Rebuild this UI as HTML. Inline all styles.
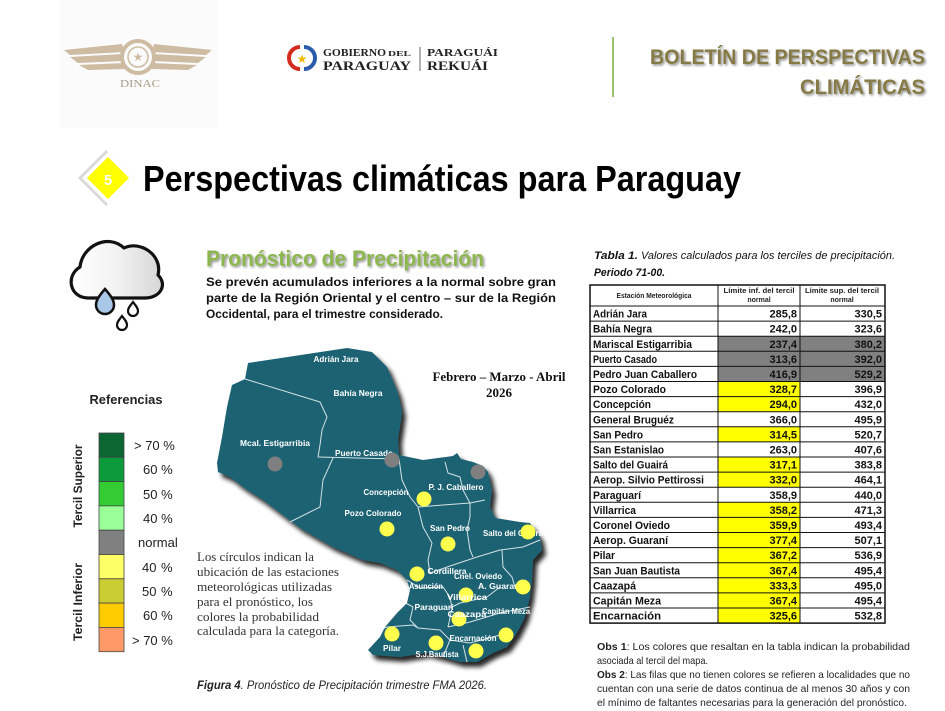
<!DOCTYPE html>
<html><head><meta charset="utf-8"><style>
html,body{margin:0;padding:0;background:#fff;}
svg{display:block;}
text{font-family:"Liberation Sans",sans-serif;}
.serif{font-family:"Liberation Serif",serif;}
</style></head><body>
<svg width="945" height="711" viewBox="0 0 945 711" xmlns="http://www.w3.org/2000/svg">
<defs>
<filter id="sh" x="-10%" y="-10%" width="130%" height="130%"><feGaussianBlur in="SourceAlpha" stdDeviation="2.5"/><feOffset dx="4" dy="5" result="b"/><feComponentTransfer><feFuncA type="linear" slope="0.85"/></feComponentTransfer><feMerge><feMergeNode/><feMergeNode in="SourceGraphic"/></feMerge></filter>
<filter id="tsh" x="-5%" y="-20%" width="110%" height="150%"><feGaussianBlur in="SourceAlpha" stdDeviation="1.2"/><feOffset dx="1.5" dy="1.5"/><feComponentTransfer><feFuncA type="linear" slope="0.45"/></feComponentTransfer><feMerge><feMergeNode/><feMergeNode in="SourceGraphic"/></feMerge></filter>
<linearGradient id="cl" x1="0" x2="1" y1="0" y2="0"><stop offset="0" stop-color="#ffffff"/><stop offset="0.5" stop-color="#f2f2f2"/><stop offset="1" stop-color="#d6d6d6"/></linearGradient>
</defs>
<rect width="945" height="711" fill="#fff"/>

<!-- DINAC logo -->
<rect x="60" y="0" width="157" height="128" fill="#fbfbfb"/>
<g fill="#cdbba2">
<path d="M64,50 L122,44 L124,52 L70,55 Z"/>
<path d="M70,57 L123,54 L124,61 L78,63 Z"/>
<path d="M79,65 L124,63 L125,69 L88,70 Z"/>
<path d="M212,50 L154,44 L152,52 L206,55 Z"/>
<path d="M206,57 L153,54 L152,61 L198,63 Z"/>
<path d="M197,65 L152,63 L151,69 L188,70 Z"/>
</g>
<circle cx="138" cy="57" r="16" fill="none" stroke="#cdbba2" stroke-width="4"/>
<circle cx="138" cy="57" r="10" fill="none" stroke="#cdbba2" stroke-width="1.5"/>
<text x="138" y="61" font-size="12" fill="#cdbba2" text-anchor="middle">★</text>
<text x="140" y="87" class="serif" font-size="10" fill="#a99a86" text-anchor="middle" textLength="40" lengthAdjust="spacingAndGlyphs">DINAC</text>

<!-- Gobierno logo -->
<path d="M300,47 A11,11 0 0 0 300,69" fill="none" stroke="#d52b1e" stroke-width="4"/>
<path d="M304,47 A11,11 0 0 1 304,69" fill="none" stroke="#2a5caa" stroke-width="4"/>
<text x="302" y="63" font-size="12" fill="#f2b800" text-anchor="middle">★</text>
<text x="323" y="56" class="serif" font-size="11" font-weight="bold" fill="#222" textLength="63" lengthAdjust="spacingAndGlyphs">GOBIERNO</text>
<text x="388" y="56" class="serif" font-size="7" font-weight="bold" fill="#222" textLength="23" lengthAdjust="spacingAndGlyphs">DEL</text>
<text x="323" y="70" class="serif" font-size="13" font-weight="bold" fill="#222" textLength="88" lengthAdjust="spacingAndGlyphs">PARAGUAY</text>
<line x1="420" y1="47" x2="420" y2="71" stroke="#666" stroke-width="1"/>
<text x="427" y="56" class="serif" font-size="11" font-weight="bold" fill="#222" textLength="71" lengthAdjust="spacingAndGlyphs">PARAGUÁI</text>
<text x="427" y="70" class="serif" font-size="13" font-weight="bold" fill="#222" textLength="61" lengthAdjust="spacingAndGlyphs">REKUÁI</text>

<line x1="613" y1="37" x2="613" y2="97" stroke="#9bc36a" stroke-width="2"/>
<g filter="url(#tsh)">
<text x="925" y="64" font-size="21" font-weight="bold" fill="#857a45" text-anchor="end" textLength="275" lengthAdjust="spacingAndGlyphs">BOLETÍN DE PERSPECTIVAS</text>
<text x="925" y="94" font-size="21" font-weight="bold" fill="#857a45" text-anchor="end" textLength="125" lengthAdjust="spacingAndGlyphs">CLIMÁTICAS</text>
</g>

<!-- Section 5 title -->
<path d="M106,150 L134,178 L106,206 L78,178 Z" fill="#d9d9d9"/>
<path d="M108,152 L134,178 L108,204 L82,178 Z" fill="#ffffff"/>
<path d="M108,157 L129,178 L108,199 L87,178 Z" fill="#ffff00"/>
<text x="108" y="185" font-size="15" font-weight="bold" fill="#fff" text-anchor="middle">5</text>
<text x="143" y="191" font-size="36" font-weight="bold" fill="#000" textLength="598" lengthAdjust="spacingAndGlyphs">Perspectivas climáticas para Paraguay</text>

<!-- Cloud icon -->
<path d="M88,298 C70,298 65,276 80,267 C82,246 108,233 124,248 C140,240 163,255 158,275 C168,285 160,298 145,298 Z" fill="url(#cl)" stroke="#111" stroke-width="3.2" stroke-linejoin="round"/>
<path d="M105,289 C112,297 114,301 114,305 A9,9 0 0 1 96,305 C96,301 98,297 105,289 Z" fill="#a9c8e8" stroke="#111" stroke-width="2.5"/>
<path d="M133,302 C136,306 138,308 138,311 A5,5 0 0 1 128,311 C128,308 130,306 133,302 Z" fill="#fff" stroke="#111" stroke-width="2.2"/>
<path d="M122,316 C125,320 127,322 127,325 A5,5 0 0 1 117,325 C117,322 119,320 122,316 Z" fill="#fff" stroke="#111" stroke-width="2.2"/>

<!-- Heading & paragraph -->
<text x="206" y="266" font-size="22" font-weight="bold" fill="#8db650" filter="url(#tsh)" textLength="278" lengthAdjust="spacingAndGlyphs">Pronóstico de Precipitación</text>
<g font-size="12" font-weight="bold" fill="#111">
<text x="206" y="286" textLength="350" lengthAdjust="spacingAndGlyphs">Se prevén acumulados inferiores a la normal sobre gran</text>
<text x="206" y="302" textLength="350" lengthAdjust="spacingAndGlyphs">parte de la Región Oriental y el centro – sur de la Región</text>
<text x="206" y="318" textLength="237" lengthAdjust="spacingAndGlyphs">Occidental, para el trimestre considerado.</text>
</g>

<!-- Legend -->
<text x="126" y="404" font-size="13" font-weight="bold" fill="#222" text-anchor="middle" textLength="73" lengthAdjust="spacingAndGlyphs">Referencias</text>
<g stroke="#444" stroke-width="0.8">
<rect x="99" y="433" width="25" height="24.3" fill="#0b6632"/>
<rect x="99" y="457.3" width="25" height="24.3" fill="#0b9a3c"/>
<rect x="99" y="481.6" width="25" height="24.3" fill="#33cc33"/>
<rect x="99" y="505.9" width="25" height="24.3" fill="#99ff99"/>
<rect x="99" y="530.2" width="25" height="24.3" fill="#808080"/>
<rect x="99" y="554.5" width="25" height="24.3" fill="#ffff66"/>
<rect x="99" y="578.8" width="25" height="24.3" fill="#cccc33"/>
<rect x="99" y="603.1" width="25" height="24.3" fill="#ffcc00"/>
<rect x="99" y="627.4" width="25" height="24.3" fill="#ff9966"/>
</g>
<g font-size="13" fill="#222">
<text x="134" y="450">&gt; 70 %</text>
<text x="143" y="474">60 %</text>
<text x="143" y="499">50 %</text>
<text x="143" y="523">40 %</text>
<text x="138" y="547">normal</text>
<text x="142" y="572">40 <tspan x="161">%</tspan></text>
<text x="142" y="596">50 <tspan x="161">%</tspan></text>
<text x="143" y="620">60 %</text>
<text x="132" y="645">&gt; 70 %</text>
</g>
<text transform="translate(82,486) rotate(-90)" font-size="12" font-weight="bold" fill="#222" text-anchor="middle" textLength="83" lengthAdjust="spacingAndGlyphs">Tercil Superior</text>
<text transform="translate(82,602) rotate(-90)" font-size="12" font-weight="bold" fill="#222" text-anchor="middle" textLength="78" lengthAdjust="spacingAndGlyphs">Tercil Inferior</text>

<!-- Map -->
<polygon filter="url(#sh)" fill="#1e6273" points="248,363 347,348 372,352 387,367 398,393 402,412 400,427 398,440 399,455 423,460 453,456 457,453 461,459 473,462 483,466 488,472 492,490 490,507 495,518 520,522 530,523 540,537 542,550 533,560 532,580 530,597 525,617 517,633 507,647 493,653 477,662 460,662 443,657 427,653 400,657 373,655 368,650 380,637 385,627 397,613 407,603 410,590 407,580 397,570 380,563 363,560 333,547 300,528 263,500 243,487 230,477 218,472 217,463 222,437 227,407 232,385 245,379"/>
<g fill="none" stroke="#e8f0f2" stroke-width="1" stroke-linejoin="round" opacity="0.9">
<polyline points="245,379 320,402 327,417 322,430 320,445 318,457 399,459"/>
<polyline points="333,458 323,480 320,507 290,522"/>
<polyline points="399,459 402,480 410,497 418,507 423,527 432,543 428,560 430,573"/>
<polyline points="418,507 443,505 470,503 485,500"/>
<polyline points="445,462 448,473 460,477 463,490 470,503"/>
<polyline points="470,503 470,517 467,530 470,550 473,557"/>
<polyline points="430,573 453,565 477,557 500,550 523,547 540,540"/>
<polyline points="502,550 503,567 512,577 515,587 530,590"/>
<polyline points="407,580 420,588 443,587 450,597"/>
<polyline points="400,600 413,607 410,620 418,628 440,630 450,640 443,657"/>
<polyline points="450,608 460,603 487,597 500,587"/>
<polyline points="448,627 470,622 500,613 530,607"/>
<polyline points="380,630 387,627 413,625 418,628"/>
<polyline points="450,640 470,643 500,635"/>
<polyline points="463,645 467,662"/>
<polyline points="450,597 452,608 448,627"/>
</g>
<g font-size="8.5" font-weight="bold" fill="#ffffff" text-anchor="middle">
<text x="336" y="362" textLength="45" lengthAdjust="spacingAndGlyphs">Adrián Jara</text>
<text x="358" y="396" textLength="49" lengthAdjust="spacingAndGlyphs">Bahía Negra</text>
<text x="275" y="446" textLength="70" lengthAdjust="spacingAndGlyphs">Mcal. Estigarribia</text>
<text x="364" y="456" textLength="58" lengthAdjust="spacingAndGlyphs">Puerto Casado</text>
<text x="386" y="495" textLength="45" lengthAdjust="spacingAndGlyphs">Concepción</text>
<text x="456" y="490" textLength="55" lengthAdjust="spacingAndGlyphs">P. J. Caballero</text>
<text x="373" y="516" textLength="57" lengthAdjust="spacingAndGlyphs">Pozo Colorado</text>
<text x="450" y="531" textLength="40" lengthAdjust="spacingAndGlyphs">San Pedro</text>
<text x="513" y="536" textLength="60" lengthAdjust="spacingAndGlyphs">Salto del Guairá</text>
<text x="447" y="574" textLength="39" lengthAdjust="spacingAndGlyphs">Cordillera</text>
<text x="478" y="579" textLength="48" lengthAdjust="spacingAndGlyphs">Cnel. Oviedo</text>
<text x="426" y="589" textLength="34" lengthAdjust="spacingAndGlyphs">Asunción</text>
<text x="500" y="589" textLength="44" lengthAdjust="spacingAndGlyphs">A. Guaraní</text>
<text x="434" y="610" textLength="39" lengthAdjust="spacingAndGlyphs">Paraguarí</text>
<text x="506" y="614" textLength="48" lengthAdjust="spacingAndGlyphs">Capitán Meza</text>
<text x="473" y="641" textLength="47" lengthAdjust="spacingAndGlyphs">Encarnación</text>
<text x="392" y="651" textLength="18" lengthAdjust="spacingAndGlyphs">Pilar</text>
<text x="437" y="657" textLength="43" lengthAdjust="spacingAndGlyphs">S.J.Bautista</text>
</g>
<g fill="#7f7f7f">
<circle cx="275" cy="464" r="7.5"/>
<circle cx="392" cy="460" r="7.5"/>
<circle cx="478" cy="472" r="7.5"/>
</g>
<g fill="#ffff4d">
<circle cx="424" cy="499" r="7.5"/>
<circle cx="387" cy="529" r="7.5"/>
<circle cx="448" cy="544" r="7.5"/>
<circle cx="528" cy="532" r="7.5"/>
<circle cx="417" cy="574" r="7.5"/>
<circle cx="523" cy="587" r="7.5"/>
<circle cx="466" cy="595" r="7.5"/>
<circle cx="459" cy="619" r="7.5"/>
<circle cx="392" cy="634" r="7.5"/>
<circle cx="436" cy="643" r="7.5"/>
<circle cx="506" cy="635" r="7.5"/>
<circle cx="476" cy="651" r="7.5"/>
</g>
<g font-size="8.5" font-weight="bold" fill="#ffffff" text-anchor="middle">
<text x="467" y="600" textLength="40" lengthAdjust="spacingAndGlyphs">Villarrica</text>
<text x="467" y="617" textLength="39" lengthAdjust="spacingAndGlyphs">Caazapá</text>
</g>

<text x="499" y="381" class="serif" font-size="13" font-weight="bold" fill="#111" text-anchor="middle" textLength="133" lengthAdjust="spacingAndGlyphs">Febrero – Marzo - Abril</text>
<text x="499" y="397" class="serif" font-size="13" font-weight="bold" fill="#111" text-anchor="middle">2026</text>

<g class="serif" font-size="13" fill="#333">
<text x="197" y="561" class="serif" textLength="117" lengthAdjust="spacingAndGlyphs">Los círculos indican la</text>
<text x="197" y="576" class="serif" textLength="142" lengthAdjust="spacingAndGlyphs">ubicación de las estaciones</text>
<text x="197" y="591" class="serif" textLength="135" lengthAdjust="spacingAndGlyphs">meteorológicas utilizadas</text>
<text x="197" y="606" class="serif" textLength="116" lengthAdjust="spacingAndGlyphs">para el pronóstico, los</text>
<text x="197" y="621" class="serif" textLength="122" lengthAdjust="spacingAndGlyphs">colores la probabilidad</text>
<text x="197" y="635" class="serif" textLength="142" lengthAdjust="spacingAndGlyphs">calculada para la categoría.</text>
</g>

<text x="197" y="689" font-size="11.5" font-style="italic" fill="#222" textLength="290" lengthAdjust="spacingAndGlyphs"><tspan font-weight="bold">Figura 4</tspan>. Pronóstico de Precipitación trimestre FMA 2026.</text>

<!-- Table caption -->
<text x="594" y="259" font-size="11" font-weight="bold" font-style="italic" fill="#111" textLength="44" lengthAdjust="spacingAndGlyphs">Tabla 1.</text>
<text x="641" y="259" font-size="11" font-style="italic" fill="#111" textLength="254" lengthAdjust="spacingAndGlyphs">Valores calculados para los terciles de precipitación.</text>
<text x="594" y="276" font-size="11" font-weight="bold" font-style="italic" fill="#111" textLength="71" lengthAdjust="spacingAndGlyphs">Periodo 71-00.</text>

<!-- Table -->
<g>
<rect x="718" y="336.2" width="82" height="45.3" fill="#808080"/>
<rect x="800" y="336.2" width="85" height="45.3" fill="#808080"/>
<rect x="718" y="381.5" width="82" height="30.2" fill="#ffff00"/>
<rect x="718" y="426.8" width="82" height="15.1" fill="#ffff00"/>
<rect x="718" y="457" width="82" height="30.2" fill="#ffff00"/>
<rect x="718" y="502.3" width="82" height="120.8" fill="#ffff00"/>
</g>
<g stroke="#111" stroke-width="1">
<rect x="590" y="285" width="295" height="338.1" fill="none" stroke-width="1.5"/>
<line x1="718" y1="285" x2="718" y2="623"/>
<line x1="800" y1="285" x2="800" y2="623"/>
<line x1="590" y1="306" x2="885" y2="306"/>
<line x1="590" y1="321.1" x2="885" y2="321.1"/>
<line x1="590" y1="336.2" x2="885" y2="336.2"/>
<line x1="590" y1="351.3" x2="885" y2="351.3"/>
<line x1="590" y1="366.4" x2="885" y2="366.4"/>
<line x1="590" y1="381.5" x2="885" y2="381.5"/>
<line x1="590" y1="396.6" x2="885" y2="396.6"/>
<line x1="590" y1="411.7" x2="885" y2="411.7"/>
<line x1="590" y1="426.8" x2="885" y2="426.8"/>
<line x1="590" y1="441.9" x2="885" y2="441.9"/>
<line x1="590" y1="457" x2="885" y2="457"/>
<line x1="590" y1="472.1" x2="885" y2="472.1"/>
<line x1="590" y1="487.2" x2="885" y2="487.2"/>
<line x1="590" y1="502.3" x2="885" y2="502.3"/>
<line x1="590" y1="517.4" x2="885" y2="517.4"/>
<line x1="590" y1="532.5" x2="885" y2="532.5"/>
<line x1="590" y1="547.6" x2="885" y2="547.6"/>
<line x1="590" y1="562.7" x2="885" y2="562.7"/>
<line x1="590" y1="577.8" x2="885" y2="577.8"/>
<line x1="590" y1="592.9" x2="885" y2="592.9"/>
<line x1="590" y1="608" x2="885" y2="608"/>
</g>
<g font-size="7" font-weight="bold" fill="#222" text-anchor="middle">
<text x="654" y="298" textLength="75" lengthAdjust="spacingAndGlyphs">Estación Meteorológica</text>
<text x="759" y="293" textLength="71" lengthAdjust="spacingAndGlyphs">Límite inf. del tercil</text>
<text x="759" y="302">normal</text>
<text x="842" y="293" textLength="74" lengthAdjust="spacingAndGlyphs">Límite sup. del tercil</text>
<text x="842" y="302">normal</text>
</g>
<g font-size="11" font-weight="bold" fill="#111">
<text x="593" y="317.6" textLength="54" lengthAdjust="spacingAndGlyphs">Adrián Jara</text>
<text x="593" y="332.7" textLength="59" lengthAdjust="spacingAndGlyphs">Bahía Negra</text>
<text x="593" y="347.8" textLength="99" lengthAdjust="spacingAndGlyphs">Mariscal Estigarribia</text>
<text x="593" y="362.9" textLength="64" lengthAdjust="spacingAndGlyphs">Puerto Casado</text>
<text x="593" y="378" textLength="104" lengthAdjust="spacingAndGlyphs">Pedro Juan Caballero</text>
<text x="593" y="393.1" textLength="73" lengthAdjust="spacingAndGlyphs">Pozo Colorado</text>
<text x="593" y="408.2" textLength="58" lengthAdjust="spacingAndGlyphs">Concepción</text>
<text x="593" y="423.3" textLength="81" lengthAdjust="spacingAndGlyphs">General Bruguéz</text>
<text x="593" y="438.4" textLength="50" lengthAdjust="spacingAndGlyphs">San Pedro</text>
<text x="593" y="453.5" textLength="71" lengthAdjust="spacingAndGlyphs">San Estanislao</text>
<text x="593" y="468.6" textLength="75" lengthAdjust="spacingAndGlyphs">Salto del Guairá</text>
<text x="593" y="483.7" textLength="111" lengthAdjust="spacingAndGlyphs">Aerop. Silvio Pettirossi</text>
<text x="593" y="498.8" textLength="48" lengthAdjust="spacingAndGlyphs">Paraguarí</text>
<text x="593" y="513.9" textLength="43" lengthAdjust="spacingAndGlyphs">Villarrica</text>
<text x="593" y="529" textLength="77" lengthAdjust="spacingAndGlyphs">Coronel Oviedo</text>
<text x="593" y="544.1" textLength="75" lengthAdjust="spacingAndGlyphs">Aerop. Guaraní</text>
<text x="593" y="559.2" textLength="22" lengthAdjust="spacingAndGlyphs">Pilar</text>
<text x="593" y="574.3" textLength="87" lengthAdjust="spacingAndGlyphs">San Juan Bautista</text>
<text x="593" y="589.4" textLength="43" lengthAdjust="spacingAndGlyphs">Caazapá</text>
<text x="593" y="604.5" textLength="68" lengthAdjust="spacingAndGlyphs">Capitán Meza</text>
<text x="593" y="619.6" textLength="68" lengthAdjust="spacingAndGlyphs">Encarnación</text>
</g>
<g font-size="11" font-weight="bold" fill="#111" text-anchor="end">
<text x="797" y="317.6">285,8</text><text x="882" y="317.6">330,5</text>
<text x="797" y="332.7">242,0</text><text x="882" y="332.7">323,6</text>
<text x="797" y="347.8">237,4</text><text x="882" y="347.8">380,2</text>
<text x="797" y="362.9">313,6</text><text x="882" y="362.9">392,0</text>
<text x="797" y="378">416,9</text><text x="882" y="378">529,2</text>
<text x="797" y="393.1">328,7</text><text x="882" y="393.1">396,9</text>
<text x="797" y="408.2">294,0</text><text x="882" y="408.2">432,0</text>
<text x="797" y="423.3">366,0</text><text x="882" y="423.3">495,9</text>
<text x="797" y="438.4">314,5</text><text x="882" y="438.4">520,7</text>
<text x="797" y="453.5">263,0</text><text x="882" y="453.5">407,6</text>
<text x="797" y="468.6">317,1</text><text x="882" y="468.6">383,8</text>
<text x="797" y="483.7">332,0</text><text x="882" y="483.7">464,1</text>
<text x="797" y="498.8">358,9</text><text x="882" y="498.8">440,0</text>
<text x="797" y="513.9">358,2</text><text x="882" y="513.9">471,3</text>
<text x="797" y="529">359,9</text><text x="882" y="529">493,4</text>
<text x="797" y="544.1">377,4</text><text x="882" y="544.1">507,1</text>
<text x="797" y="559.2">367,2</text><text x="882" y="559.2">536,9</text>
<text x="797" y="574.3">367,4</text><text x="882" y="574.3">495,4</text>
<text x="797" y="589.4">333,3</text><text x="882" y="589.4">495,0</text>
<text x="797" y="604.5">367,4</text><text x="882" y="604.5">495,4</text>
<text x="797" y="619.6">325,6</text><text x="882" y="619.6">532,8</text>
</g>

<!-- Obs -->
<g font-size="10.5" fill="#222">
<text x="597" y="650" textLength="313" lengthAdjust="spacingAndGlyphs"><tspan font-weight="bold">Obs 1</tspan>: Los colores que resaltan en la tabla indican la probabilidad</text>
<text x="597" y="664" textLength="111" lengthAdjust="spacingAndGlyphs">asociada al tercil del mapa.</text>
<text x="597" y="678" textLength="313" lengthAdjust="spacingAndGlyphs"><tspan font-weight="bold">Obs 2</tspan>: Las filas que no tienen colores se refieren a localidades que no</text>
<text x="597" y="692" textLength="313" lengthAdjust="spacingAndGlyphs">cuentan con una serie de datos continua de al menos 30 años y con</text>
<text x="597" y="706" textLength="310" lengthAdjust="spacingAndGlyphs">el mínimo de faltantes necesarias para la generación del pronóstico.</text>
</g>
</svg>
</body></html>
